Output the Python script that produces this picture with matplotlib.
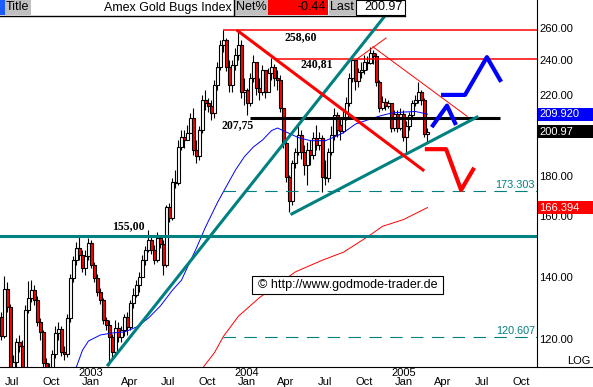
import numpy as np
import pandas as pd
import matplotlib
matplotlib.use('Agg')
import matplotlib.pyplot as plt
import matplotlib.dates as mdates
from matplotlib.patches import Rectangle
from matplotlib.lines import Line2D
from matplotlib.ticker import NullLocator
from matplotlib.transforms import blended_transform_factory

plt.rcParams['font.family'] = ['Liberation Sans', 'DejaVu Sans']
plt.rcParams['lines.scale_dashes'] = False

# weekly candles of the Amex Gold Bugs Index, first week ends 2002-06-07
first_week = '2002-06-07'
opens = [126.8, 120.9, 135.8, 130.0, 108.0, 113.4, 119.1, 117.9, 110.5, 129.0,
         132.9, 135.5, 132.2, 125.1, 122.1, 113.0, 110.5, 111.5, 115.6, 121.8,
         123.0, 116.2, 115.6, 126.4, 139.6, 146.0, 150.5, 147.9, 143.1, 147.5,
         152.3, 144.2, 139.6, 134.9, 132.2, 125.8, 124.2, 120.6, 116.2, 123.3,
         120.6, 122.7, 126.8, 123.6, 131.2, 133.9, 137.2, 140.0, 146.0, 149.7,
         153.5, 149.7, 146.0, 154.2, 151.9, 144.2, 166.6, 162.1, 177.3, 176.9,
         193.4, 198.3, 196.8, 200.2, 207.9, 192.0, 189.2, 201.6, 217.4, 215.8,
         214.1, 210.5, 225.7, 236.0, 249.3, 252.4, 236.0, 225.7, 237.2, 243.2,
         249.3, 221.6, 222.9, 215.8, 229.7, 239.0, 224.0, 221.8, 234.3, 221.8,
         232.6, 236.0, 229.7, 228.5, 213.0, 195.3, 179.5, 169.1, 185.9, 191.0,
         199.3, 191.0, 185.0, 192.0, 189.6, 197.8, 194.4, 197.8, 179.5, 179.1,
         191.0, 199.3, 209.5, 204.3, 201.4, 208.4, 215.8, 229.7, 240.2, 228.0,
         233.1, 234.3, 239.0, 238.4, 244.4, 242.6, 227.4, 213.4, 216.3, 214.1,
         215.8, 202.8, 210.0, 202.8, 210.0, 198.3, 203.8, 209.5, 215.8, 217.4,
         221.8, 217.4, 199.8]
highs = [128.4, 140.3, 138.2, 130.9, 115.3, 120.3, 121.2, 119.7, 130.6, 138.6,
         138.9, 137.2, 133.5, 126.4, 122.7, 114.5, 113.0, 116.7, 123.9, 125.1,
         123.9, 117.9, 127.7, 141.1, 147.5, 152.8, 154.6, 149.7, 149.7, 154.2,
         153.5, 145.3, 141.1, 136.2, 132.9, 126.7, 125.8, 121.5, 125.8, 125.1,
         123.9, 127.7, 128.4, 132.2, 136.2, 138.9, 141.7, 147.9, 151.2, 157.4,
         155.0, 151.6, 156.6, 155.0, 153.5, 167.4, 168.2, 178.9, 182.7, 196.8,
         201.8, 201.8, 204.3, 210.6, 213.4, 196.8, 203.8, 220.2, 222.9, 218.5,
         217.4, 228.5, 239.0, 252.4, 258.6, 253.6, 240.2, 240.2, 247.4, 258.1,
         252.4, 229.7, 224.0, 232.6, 243.2, 239.0, 229.7, 237.2, 234.3, 235.4,
         241.4, 237.8, 234.3, 231.4, 213.0, 196.8, 180.4, 187.3, 192.9, 203.8,
         201.8, 194.4, 195.7, 196.8, 200.7, 204.3, 200.7, 199.3, 187.3, 192.9,
         203.8, 213.4, 211.0, 207.9, 212.1, 219.1, 232.6, 240.8, 239.0, 235.4,
         239.0, 243.2, 242.6, 248.1, 246.2, 244.4, 228.5, 219.6, 218.5, 217.4,
         215.8, 212.1, 212.1, 213.0, 212.1, 206.4, 211.0, 217.4, 220.2, 227.4,
         222.9, 218.5, 202.8]
lows = [119.7, 120.3, 128.4, 102.0, 104.0, 110.5, 116.2, 107.0, 109.0, 128.1,
        131.6, 130.6, 123.9, 119.7, 109.0, 106.0, 107.0, 109.5, 114.5, 119.7,
        115.0, 113.9, 114.8, 125.1, 138.2, 144.2, 146.0, 141.7, 140.7, 146.0,
        143.1, 138.2, 133.5, 130.9, 124.5, 122.7, 112.5, 114.5, 115.3, 119.1,
        119.1, 120.9, 121.2, 122.7, 129.6, 133.2, 134.9, 140.0, 144.2, 149.0,
        148.3, 144.6, 145.3, 150.5, 140.7, 143.5, 160.5, 161.3, 174.9, 176.0,
        192.0, 192.9, 196.8, 200.2, 189.6, 185.9, 187.3, 200.2, 212.1, 211.0,
        206.9, 207.8, 222.9, 234.3, 244.9, 233.7, 221.8, 221.8, 234.3, 240.2,
        218.5, 214.7, 209.5, 214.1, 227.4, 220.2, 217.4, 220.2, 218.5, 227.4,
        228.5, 225.1, 222.9, 211.0, 192.9, 177.3, 164.6, 167.4, 183.6, 189.6,
        187.8, 180.4, 176.0, 185.0, 187.8, 192.0, 192.0, 172.9, 176.0, 177.3,
        189.6, 196.8, 198.3, 196.8, 200.3, 206.9, 214.1, 227.4, 222.9, 224.6,
        229.7, 231.9, 234.3, 237.8, 237.8, 225.1, 211.0, 212.1, 212.1, 213.0,
        200.7, 201.2, 200.7, 201.8, 196.3, 190.6, 201.8, 207.9, 214.1, 215.8,
        214.7, 198.3, 195.8]
closes = [120.9, 135.8, 130.0, 108.0, 113.4, 119.1, 117.9, 110.5, 129.0, 132.9,
          135.5, 132.2, 125.1, 122.1, 113.0, 110.5, 111.5, 115.6, 121.8, 123.0,
          116.2, 115.6, 126.4, 139.6, 146.0, 150.5, 147.9, 143.1, 147.5, 152.3,
          144.2, 139.6, 134.9, 132.2, 125.8, 124.2, 120.6, 116.2, 123.3, 120.6,
          122.7, 126.8, 123.6, 131.2, 133.9, 137.2, 140.0, 146.0, 149.7, 153.5,
          149.7, 146.0, 154.2, 151.9, 144.2, 166.6, 162.1, 177.3, 176.9, 193.4,
          198.3, 196.8, 200.2, 207.9, 192.0, 189.2, 201.6, 217.4, 215.8, 214.1,
          210.5, 225.7, 236.0, 249.3, 252.4, 236.0, 225.7, 237.2, 243.2, 249.3,
          221.6, 222.9, 215.8, 229.7, 239.0, 224.0, 221.8, 234.3, 221.8, 232.6,
          236.0, 229.7, 228.5, 213.0, 195.3, 179.5, 169.1, 185.9, 191.0, 199.3,
          191.0, 185.0, 192.0, 189.6, 197.8, 194.4, 197.8, 179.5, 179.1, 191.0,
          199.3, 209.5, 201.8, 201.4, 208.4, 215.8, 229.7, 240.2, 228.0, 233.1,
          234.3, 239.0, 238.4, 244.4, 242.6, 227.4, 213.4, 216.3, 214.1, 215.8,
          202.8, 210.0, 202.8, 210.0, 198.3, 203.8, 209.5, 215.8, 217.4, 221.8,
          217.4, 199.8, 200.97]

# moving averages (week index -> value)
blue_ma_weeks = [24, 25, 27, 29, 33, 37, 41, 45, 49, 53, 57, 60, 62, 65, 68, 72, 75, 78,
                 81, 84, 87, 90, 92, 95, 99, 103, 108, 112, 114, 118, 122, 126, 130,
                 134, 138, 142]
blue_ma = [109.5, 112.0, 116.7, 119.4, 121.2, 121.8, 122.1, 123.6, 126.4, 130.3, 135.5,
           138.9, 143.5, 150.5, 158.5, 168.5, 175.5, 182.7, 188.9, 193.5, 196.8, 201.5,
           202.8, 200.7, 198.0, 196.5, 196.5, 199.0, 200.5, 204.8, 206.9, 208.9, 210.5,
           211.0, 211.3, 209.92]
red_ma_weeks = [66, 71, 74, 79, 86, 98, 107, 114, 122, 127, 134, 142]
red_ma = [110.5, 116.0, 120.8, 127.0, 133.0, 141.8, 146.0, 148.9, 154.7, 158.8, 161.5, 166.394]

# drawn trend lines (week index, price)
steep_w, steep_p = [35.5, 131.5], [112.5, 277.5]
support_w, support_p = [96.8, 158.5], [163.8, 208.4]
down_w, down_p = [78.8, 140.5], [258.2, 182.7]
thin_w, thin_p = [123.8, 155.2], [248.2, 208.8]
thin_up_w, thin_up_p = [118.5, 128.2], [240.8, 253.7]

# scenario sketches
blue_up_w, blue_up_p = [143.8, 148.5, 151.2], [204.1, 214.4, 205.3]
blue_path_w, blue_path_p = [147.2, 154.5, 161.8, 166.2], [220.2, 220.2, 241.9, 228.5]
red_path_w, red_path_p = [141.8, 148.2, 153.2, 157.2], [192.4, 192.4, 173.8, 182.9]

last_price = 200.97
net_pct = -0.44

teal = '#008080'
W, H = 593, 387
t0 = pd.Timestamp(first_week)


def wk(w):
    return mdates.date2num(t0 + pd.to_timedelta(np.atleast_1d(np.asarray(w, float)) * 7, unit='D'))


def fx(px):
    return px / W


def fy(py):
    return 1 - py / H


fig = plt.figure(figsize=(W / 100, H / 100), dpi=100)
ax = fig.add_axes([0, 20 / H, 537 / W, 367 / H])
ax.set_yscale('log')
ax.set_ylim(111.91, 278.84)
x0, x1 = wk([-0.5])[0], wk([178.5])[0]
ax.set_xlim(x0, x1)

# candles
xd = wk(np.arange(len(closes)))
o, hi, lo, c = map(np.array, (opens, highs, lows, closes))
ax.vlines(xd, lo, hi, color='black', lw=0.8, zorder=2)
ax.bar(xd, np.abs(c - o), bottom=np.minimum(o, c), width=5.5,
       color=np.where(c >= o, 'white', 'red'), edgecolor='black', linewidth=0.8, zorder=3)

# averages
ax.plot(wk(blue_ma_weeks), blue_ma, color='#0000ff', lw=0.7, zorder=4)
ax.plot(wk(red_ma_weeks), red_ma, color='#ff0000', lw=0.7, zorder=4)

# horizontal levels
ax.axhline(155.0, color=teal, lw=2.2, zorder=5)
ax.hlines(258.60, wk([73.8])[0], x1, colors='red', lw=1.1, zorder=5)
ax.hlines(240.81, wk([91.2])[0], x1, colors='red', lw=1.1, zorder=5)
ax.hlines(207.75, wk([82.8])[0], wk([166.2])[0], colors='black', lw=2.2, zorder=5)
for lev in (173.303, 120.607):
    ax.hlines(lev, wk([73.8])[0], x1, colors=teal, lw=0.8, linestyles=(0, (9, 6)), zorder=5)
    ax.annotate(f'{lev:.3f}', xy=(x1, lev), xytext=(-1.5, 1), textcoords='offset points',
                ha='right', va='bottom', color=teal, fontsize=7.8)

# trend lines
ax.plot(wk(steep_w), steep_p, color=teal, lw=2.2, zorder=6)
ax.plot(wk(support_w), support_p, color=teal, lw=2.2, zorder=6)
ax.plot(wk(down_w), down_p, color='red', lw=2.2, zorder=6)
ax.plot(wk(thin_w), thin_p, color='red', lw=0.7, zorder=6)
ax.plot(wk(thin_up_w), thin_up_p, color='red', lw=0.7, zorder=6)

# scenarios
ax.plot(wk(blue_up_w), blue_up_p, color='#0000ff', lw=3, zorder=7)
ax.plot(wk(blue_path_w), blue_path_p, color='#0000ff', lw=3, zorder=7)
ax.plot(wk(red_path_w), red_path_p, color='red', lw=3, zorder=7)

# level labels
lab = dict(fontsize=8.5, fontweight='bold', family='Liberation Serif', ha='center', va='center', zorder=8)
ax.text(wk([99.8])[0], 254.3, '258,60', **lab)
ax.text(wk([105.2])[0], 237.8, '240,81', **lab)
ax.text(wk([78.8])[0], 204.0, '207,75', **lab)
ax.text(wk([42.2])[0], 159.0, '155,00', **lab)

# copyright box
ax.add_patch(Rectangle((252 / 537, 1 - 294 / 367), 191 / 537, 18 / 367, transform=ax.transAxes,
                       facecolor='white', edgecolor='black', lw=0.8, zorder=8))
ax.text(347.5 / 537, 1 - 285 / 367, '\u00a9 http://www.godmode-trader.de', transform=ax.transAxes,
        ha='center', va='center', fontsize=9, zorder=9)

# axes styling
for s in ('left', 'top', 'bottom'):
    ax.spines[s].set_visible(False)
ax.spines['right'].set_linewidth(0.8)
ax.yaxis.tick_right()
yt = [120, 140, 180, 220, 240, 260]
ax.set_yticks(yt)
ax.set_yticklabels([f'{v:.2f}' for v in yt])
ax.yaxis.set_minor_locator(NullLocator())
ax.tick_params(axis='y', length=0, pad=1.5, labelsize=8)
ax.annotate('160.00', xy=(1, 160), xycoords=blended_transform_factory(ax.transAxes, ax.transData),
            xytext=(1.5, 4.5), textcoords='offset points', ha='left', va='center', fontsize=8,
            annotation_clip=False)

qs = pd.date_range('2002-07-01', '2005-10-01', freq='QS')
ax.set_xticks(mdates.date2num(qs))
ax.set_xticklabels([f'{d.year}\n{d:%b}' if d.month == 1 else f'\n{d:%b}' for d in qs])
ax.xaxis.set_minor_locator(NullLocator())
ax.tick_params(axis='x', length=0, pad=0.5, labelsize=8)
for t in ax.get_xticklabels():
    t.set_linespacing(0.95)

fig.add_artist(Line2D([0, 1], [fy(367), fy(367)], transform=fig.transFigure, color='black', lw=0.8))
fig.text(fx(579), fy(360.5), 'LOG', ha='center', va='center', fontsize=8)

# price markers on the right
fig.canvas.draw()
for val, txt, col in [(blue_ma[-1], f'{blue_ma[-1]:.3f}', '#0000ff'),
                      (last_price, f'{last_price:.2f}', 'black'),
                      (red_ma[-1], f'{red_ma[-1]:.3f}', 'red')]:
    ypix = ax.transData.transform((x0, val))[1]
    fig.add_artist(Rectangle((fx(538), (ypix - 6.5) / H), 55 / W, 13 / H, transform=fig.transFigure,
                             facecolor=col, edgecolor='none'))
    fig.text(fx(539.5), ypix / H, txt, color='white', ha='left', va='center', fontsize=8)

# title bar
def box(xa, xb, color, ec='none'):
    fig.add_artist(Rectangle((fx(xa), fy(15)), (xb - xa) / W, 15 / H, transform=fig.transFigure,
                             facecolor=color, edgecolor=ec, lw=0.8))


box(0, 405, 'white')
box(0, 4.5, '#1a5cff')
box(4.5, 31, '#c0c0c0')
box(235, 268, '#c0c0c0')
box(268, 328, '#ff0000')
box(328.5, 356, '#c0c0c0')
box(356, 405, 'white', ec='black')
fig.add_artist(Line2D([fx(0), fx(405)], [fy(15.5), fy(15.5)], transform=fig.transFigure, color='black', lw=1))
fig.add_artist(Line2D([fx(234), fx(234)], [fy(0), fy(15)], transform=fig.transFigure, color='black', lw=1))
tb = dict(fontsize=9, va='center')
fig.text(fx(6), fy(7.5), 'Title', ha='left', **tb)
fig.text(fx(232), fy(7.5), 'Amex Gold Bugs Index', ha='right', **tb)
fig.text(fx(236), fy(7.5), 'Net%', ha='left', **tb)
fig.text(fx(326), fy(7.5), f'{net_pct:.2f}', ha='right', **tb)
fig.text(fx(330), fy(7.5), 'Last', ha='left', **tb)
fig.text(fx(403), fy(7.5), f'{last_price:.2f}', ha='right', **tb)

fig.savefig('out.png', dpi=100)
